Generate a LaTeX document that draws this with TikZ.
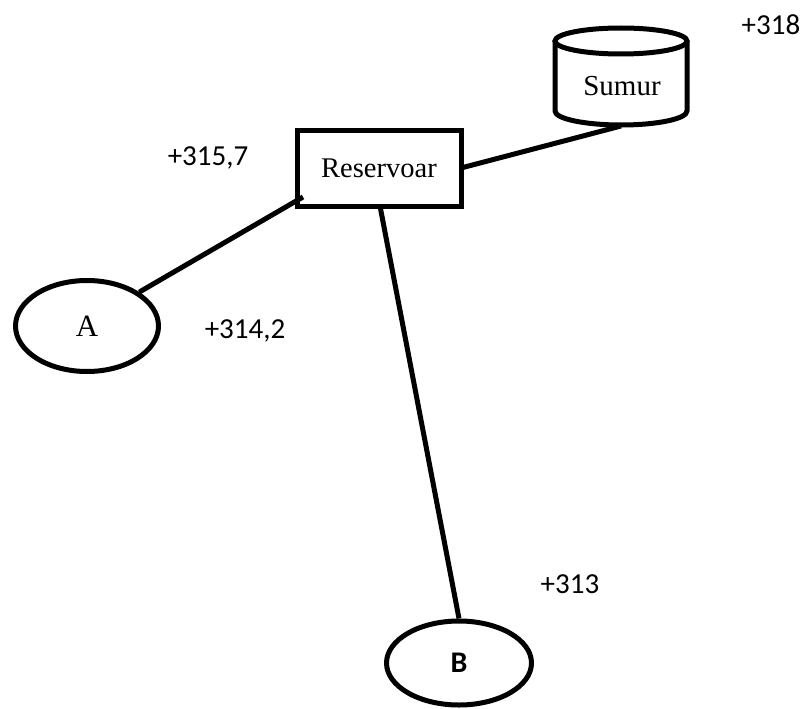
\documentclass[tikz,border=0pt]{standalone}
\usepackage{fontspec}
\setmainfont{Liberation Serif}
\newfontfamily\numfont{Carlito}
\usetikzlibrary{shapes.geometric}
\begin{document}
\begin{tikzpicture}[x=1pt,y=-1pt,
  thick line/.style={line width=5pt},
  box/.style={draw,thick line,minimum width=164pt,minimum height=76pt,inner sep=0pt,font=\fontsize{28.5}{30}\selectfont},
  site/.style={draw,thick line,ellipse,inner sep=0pt},
  elev/.style={font=\numfont\fontsize{29}{31}\selectfont},
  pipe/.style={thick line}]
\useasboundingbox (0,0) rectangle (803,709);

% well drawn as a cylinder
\node[inner sep=0pt,minimum width=132pt,minimum height=98pt] (sumur) at (621,77) {};
\draw[thick line,line join=round]
  (555,41) -- (555,111) arc[start angle=180,end angle=360,x radius=66pt,y radius=14pt] -- (687,41);
\draw[thick line] (621,41) ellipse[x radius=66pt,y radius=13pt];
\node[font=\fontsize{29}{31}\selectfont] (sumurtext) at (622,86) {Sumur};
\coordinate (sumurbot) at (621,126);

\node[box] (res) at (379,168) {Reservoar};
\node[site,minimum width=143pt,minimum height=91pt,font=\fontsize{31}{33}\selectfont] (A) at (87,326) {A};
\node[site,minimum width=145pt,minimum height=84pt,font=\numfont\bfseries\fontsize{30}{32}\selectfont] (B) at (459,663) {B};

% pipes
\coordinate (resR) at (461,168);
\coordinate (resBL) at (303,197);
\coordinate (resB) at (380,206);
\draw[pipe] (resR) -- (sumurbot);
\draw[pipe] (resBL) -- (A.north east);
\draw[pipe] (resB) -- (B.north);

% elevations
\node[elev] (e318) at (771,25) {+318};
\node[elev] (e3157) at (208,158) {+315,7};
\node[elev] (e3142) at (245,331) {+314,2};
\node[elev] (e313) at (570,584) {+313};
\end{tikzpicture}
\end{document}
